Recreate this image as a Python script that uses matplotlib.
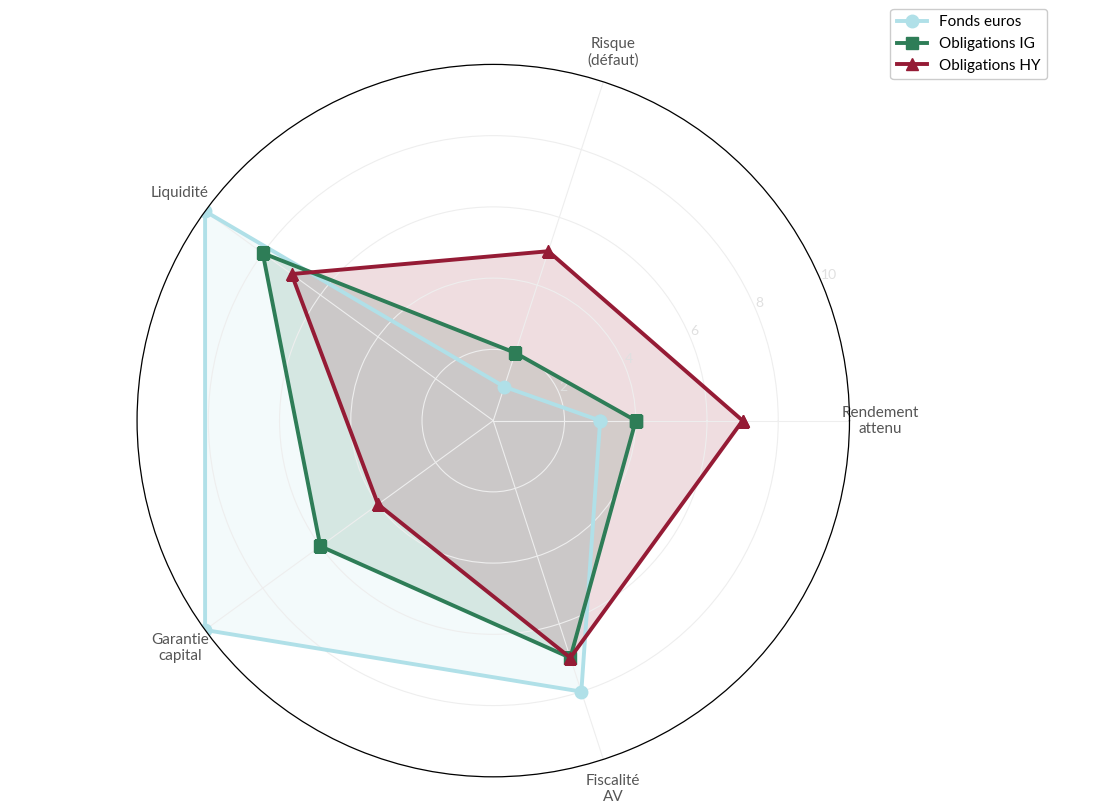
import numpy as np
import matplotlib
matplotlib.use("Agg")
import matplotlib.pyplot as plt

plt.rcParams['font.family'] = ['Lato', 'DejaVu Sans']

categories = ["Rendement\nattenu", "Risque\n(défaut)", "Liquidité", "Garantie\ncapital", "Fiscalité\nAV"]
fonds_euros = [3, 1, 10, 10, 8]
oblig_ig = [4, 2, 8, 6, 7]
oblig_hy = [7, 5, 7, 4, 7]

series = [("Fonds euros", fonds_euros, "#b0e0e8", "o", 0.15),
          ("Obligations IG", oblig_ig, "#2e7d57", "s", 0.15),
          ("Obligations HY", oblig_hy, "#951b35", "^", 0.15)]

n = len(categories)
angles = np.linspace(0, 2*np.pi, n, endpoint=False)
ang = np.concatenate([angles, angles[:1]])

fig = plt.figure(figsize=(11.16, 8.05), dpi=100)
ax = fig.add_axes([0.122, 0.035, 0.64, 0.885], polar=True)
for name, vals, col, mk, a in series:
    v = np.concatenate([vals, vals[:1]])
    ax.plot(ang, v, color=col, lw=2.8, marker=mk, markersize=9, label=name)
    ax.fill(ang, v, color=col, alpha=a)

ax.set_ylim(0, 10)
ax.set_yticks([2, 4, 6, 8, 10])
ax.set_yticklabels(["2", "4", "6", "8", "10"], color="#e0e0e0", fontsize=10)
ax.set_rlabel_position(23)
ax.set_xticks(angles)
ax.set_xticklabels(categories, color="#555555", fontsize=11)
ax.tick_params(axis='x', pad=12)
ax.grid(color="#eeeeee", lw=0.8)
ax.spines['polar'].set_color("black")
ax.spines['polar'].set_linewidth(0.9)

fig.legend(loc="upper right", bbox_to_anchor=(0.945, 0.998), fontsize=11, framealpha=1)
fig.savefig("out.png", dpi=100)
